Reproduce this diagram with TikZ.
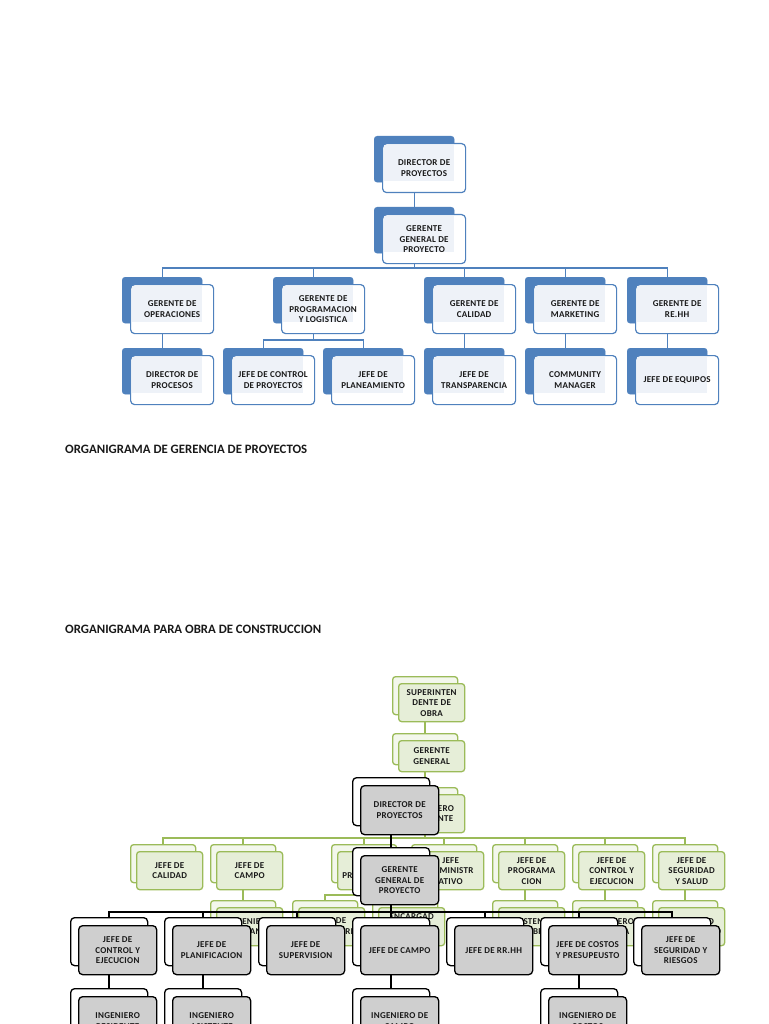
\documentclass[tikz,border=0pt]{standalone}
\usepackage{fontspec}
\usepackage{graphicx}
\setmainfont{Carlito}
\newfontfamily\boxfont{Carlito}[LetterSpace=3]
\usetikzlibrary{calc}
\definecolor{bblue}{HTML}{4F81BD}
\definecolor{binner}{HTML}{EEF2F8}
\definecolor{ggreen}{HTML}{9BBB59}
\definecolor{gbackfill}{HTML}{F3F7EC}
\definecolor{gfrontfill}{HTML}{E6EED8}
\definecolor{kfill}{HTML}{CFCFCF}
\tikzset{
  boxtxt/.style={font=\boxfont\bfseries\fontsize{9}{10.5}\selectfont, align=center, inner sep=0pt, text=black!90},
  bback/.style={fill=bblue, draw=bblue, rounded corners=3pt, minimum width=80pt, minimum height=46pt, inner sep=0pt, anchor=north west},
  bfront/.style={fill=white, draw=bblue, line width=1.2pt, rounded corners=4pt, minimum width=83pt, minimum height=49pt, inner sep=0pt, anchor=north west},
  binside/.style={fill=binner, minimum width=70pt, minimum height=36pt, inner sep=0pt, anchor=north west},
  bline/.style={draw=bblue, line width=1.4pt},
  gback/.style={fill=gbackfill, draw=ggreen, line width=1.3pt, rounded corners=3pt, minimum width=65pt, inner sep=0pt, anchor=north west},
  gfront/.style={fill=gfrontfill, draw=ggreen, line width=1.3pt, rounded corners=3pt, minimum width=66pt, inner sep=0pt, anchor=north west},
  gline/.style={draw=ggreen, line width=1.4pt},
  kback/.style={fill=white, draw=black, line width=1.3pt, rounded corners=4pt, minimum width=77pt, minimum height=48pt, inner sep=0pt, anchor=north west},
  kfront/.style={fill=kfill, draw=black, line width=1.3pt, rounded corners=4pt, minimum width=78pt, minimum height=49pt, inner sep=0pt, anchor=north west},
  kline/.style={draw=black, line width=1.4pt},
  titletxt/.style={anchor=base west, inner sep=0pt, text=black!90}
}
% blue node: name, x, y, text
\newcommand\bnode[4]{%
  \node[bback] (b-#1) at (#2,#3) {};
  \node[bfront] (f-#1) at ($(b-#1.north west)+(8,7)$) {};
  \node[binside] (i-#1) at ($(f-#1.north west)+(2,2)$) {};
  \node[boxtxt] (t-#1) at (f-#1.center) {#4};
}
% green node: name, x, y, height, text
\newcommand\gnode[5]{%
  \node[gback, minimum height=#4pt] (gb-#1) at (#2,#3) {};
  \node[gfront, minimum height=#4pt] (gf-#1) at ($(gb-#1.north west)+(6,7)$) {};
  \node[boxtxt] (gt-#1) at (gf-#1.center) {#5};
}
% gray node: name, x, y, text
\newcommand\knode[4]{%
  \node[kback] (kb-#1) at (#2,#3) {};
  \node[kfront] (kf-#1) at ($(kb-#1.north west)+(8,8)$) {};
  \node[boxtxt] (kt-#1) at (kf-#1.center) {#4};
}
\begin{document}
\begin{tikzpicture}[x=1pt,y=-1pt]
\useasboundingbox (0,0) rectangle (768,1024);
\clip (0,0) rectangle (768,1024);

% ---------------- top chart (blue) ----------------
\bnode{dir}{374}{136}{DIRECTOR DE\\PROYECTOS}
\bnode{gg}{374}{207}{GERENTE\\GENERAL DE\\PROYECTO}
\bnode{op}{122}{277}{GERENTE DE\\OPERACIONES}
\bnode{prog}{273}{277}{GERENTE DE\\PROGRAMACION\\Y LOGISTICA}
\bnode{cal}{424}{277}{GERENTE DE\\CALIDAD}
\bnode{mkt}{525}{277}{GERENTE DE\\MARKETING}
\bnode{rh}{627}{277}{GERENTE DE\\RE.HH}
\bnode{proc}{122}{348}{DIRECTOR DE\\PROCESOS}
\bnode{ctrl}{223}{348}{JEFE DE CONTROL\\DE PROYECTOS}
\bnode{plan}{323}{348}{JEFE DE\\PLANEAMIENTO}
\bnode{transp}{424}{348}{JEFE DE\\TRANSPARENCIA}
\bnode{cm}{525}{348}{COMMUNITY\\MANAGER}
\bnode{eq}{627}{348}{JEFE DE EQUIPOS}

\coordinate (busA) at (0,268);
\coordinate (busB) at (0,340);
\draw[bline] (b-dir |- f-dir.south) -- (b-gg.north);
\foreach \c in {op,prog,cal,mkt,rh}
  \draw[bline] (b-gg |- f-gg.south) -- (b-gg |- busA) -| (b-\c.north);
\draw[bline] (b-op |- f-op.south) -- (b-proc.north);
\foreach \c in {ctrl,plan}
  \draw[bline] (b-prog |- f-prog.south) -- (b-prog |- busB) -| (b-\c.north);
\draw[bline] (b-cal |- f-cal.south) -- (b-transp.north);
\draw[bline] (b-mkt |- f-mkt.south) -- (b-cm.north);
\draw[bline] (b-rh |- f-rh.south) -- (b-eq.north);

% ---------------- titles ----------------
\node[titletxt] (title1) at (65,453.5) {\resizebox{242pt}{!}{\bfseries ORGANIGRAMA DE GERENCIA DE PROYECTOS}};
\node[titletxt] (title2) at (65,633.5) {\resizebox{256pt}{!}{\bfseries ORGANIGRAMA PARA OBRA DE CONSTRUCCION}};

% ---------------- green chart ----------------
\gnode{sup}{392}{676}{38}{SUPERINTEN\\DENTE DE\\OBRA}
\gnode{ggg}{392}{733}{31}{GERENTE\\GENERAL}
\gnode{res}{392}{787}{38}{INGENIERO\\RESIDENTE}
\gnode{cal}{130}{844}{38}{JEFE DE\\CALIDAD}
\gnode{camp}{210}{844}{38}{JEFE DE\\CAMPO}
\gnode{pres}{331}{844}{38}{JEFE DE\\PRESUPUESTO}
\gnode{adm}{411}{844}{38}{JEFE\\ADMINISTR\\ATIVO}
\gnode{prog}{492}{844}{38}{JEFE DE\\PROGRAMA\\CION}
\gnode{ctl}{572}{844}{38}{JEFE DE\\CONTROL Y\\EJECUCION}
\gnode{seg}{652}{844}{38}{JEFE DE\\SEGURIDAD\\Y SALUD}
\gnode{ingc}{210}{900}{38}{INGENIERO\\DE PLANTA}
\gnode{maq}{292}{900}{38}{JEFE DE\\MAQUINARIA}
\gnode{enc}{372}{900}{38}{ENCARGAD\\O DE\\ALMACEN}
\gnode{asis}{492}{900}{38}{ASISTENTE\\DE OBRA}
\gnode{ingp}{572}{900}{38}{INGENIERO\\DE OBRA}
\gnode{ings}{652}{900}{38}{INGENIERO\\DE SEGURIDAD}

\coordinate (gbus) at (0,838);
\coordinate (gbus2) at (0,895);
\draw[gline] (gb-sup |- gf-sup.south) -- (gb-ggg.north);
\draw[gline] (gb-ggg |- gf-ggg.south) -- (gb-res.north);
\foreach \c in {cal,camp,pres,adm,prog,ctl,seg}
  \draw[gline] (gb-res |- gf-res.south) -- (gb-res |- gbus) -| (gb-\c.north);
\draw[gline] (gb-camp |- gf-camp.south) -- (gb-ingc.north);
\foreach \c in {maq,enc}
  \draw[gline] (gb-pres |- gf-pres.south) -- (gb-pres |- gbus2) -| (gb-\c.north);
\draw[gline] (gb-prog |- gf-prog.south) -- (gb-asis.north);
\draw[gline] (gb-ctl |- gf-ctl.south) -- (gb-ingp.north);
\draw[gline] (gb-seg |- gf-seg.south) -- (gb-ings.north);

% ---------------- gray chart ----------------
\knode{dir}{352}{777}{DIRECTOR DE\\PROYECTOS}
\knode{gg}{352}{847}{GERENTE\\GENERAL DE\\PROYECTO}
\knode{ctl}{70}{917}{JEFE DE\\CONTROL Y\\EJECUCION}
\knode{plan}{164}{917}{JEFE DE\\PLANIFICACION}
\knode{sup}{258}{917}{JEFE DE\\SUPERVISION}
\knode{camp}{352}{917}{JEFE DE CAMPO}
\knode{rrhh}{446}{917}{JEFE DE RR.HH}
\knode{cost}{540}{917}{JEFE DE COSTOS\\Y PRESUPEUSTO}
\knode{seg}{633}{917}{JEFE DE\\SEGURIDAD Y\\RIESGOS}
\knode{ingr}{70}{988}{INGENIERO\\RESIDENTE}
\knode{inga}{164}{988}{INGENIERO\\ASISTENTE}
\knode{ingc}{352}{988}{INGENIERO DE\\CAMPO}
\knode{ingco}{540}{988}{INGENIERO DE\\COSTOS}

\coordinate (kbus) at (0,912);
\draw[kline] (kb-dir |- kf-dir.south) -- (kb-gg.north);
\foreach \c in {ctl,plan,sup,camp,rrhh,cost,seg}
  \draw[kline] (kb-gg |- kf-gg.south) -- (kb-gg |- kbus) -| (kb-\c.north);
\draw[kline] (kb-ctl |- kf-ctl.south) -- (kb-ingr.north);
\draw[kline] (kb-plan |- kf-plan.south) -- (kb-inga.north);
\draw[kline] (kb-camp |- kf-camp.south) -- (kb-ingc.north);
\draw[kline] (kb-cost |- kf-cost.south) -- (kb-ingco.north);
\end{tikzpicture}
\end{document}
